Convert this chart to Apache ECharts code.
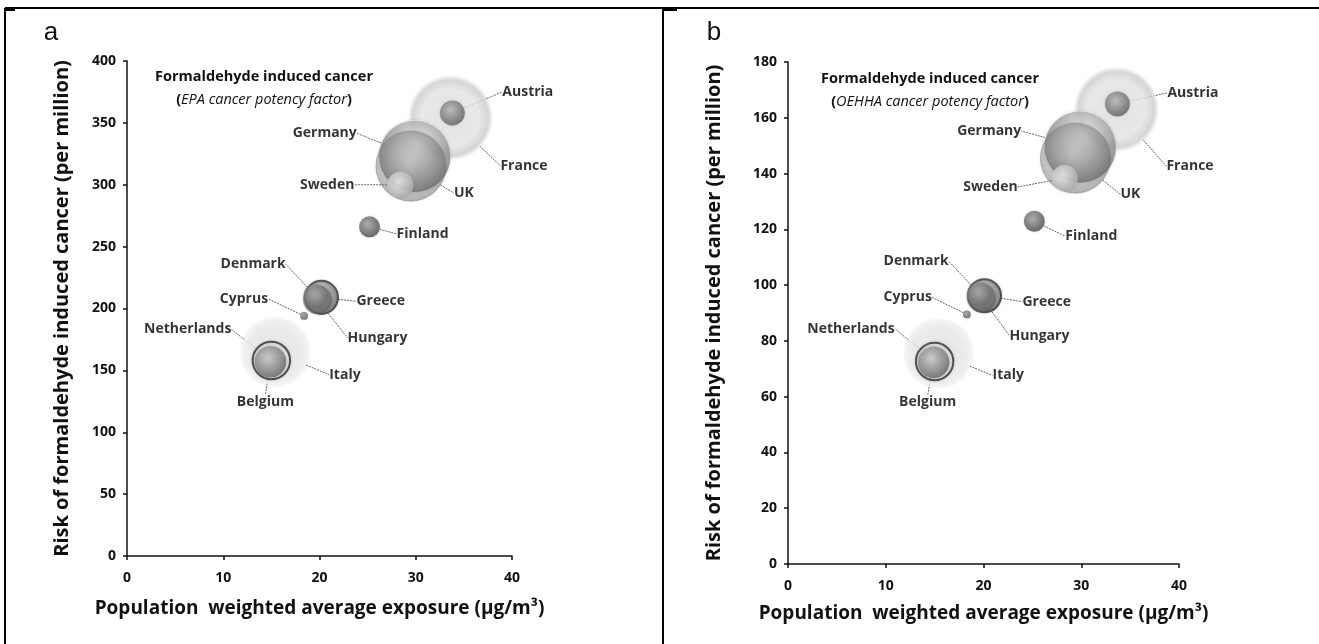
<!DOCTYPE html>
<html>
<head>
<meta charset="utf-8">
<script src="https://cdn.jsdelivr.net/npm/echarts@6/dist/echarts.min.js"></script>
<style>
html,body{margin:0;padding:0;background:#fff;}
#chart{width:1319px;height:644px;}
</style>
</head>
<body>
<div id="chart"></div>
<script>
// ---------- data ----------
const countries = ['France','Italy','Germany','UK','Austria','Sweden','Finland','Greece','Hungary','Denmark','Cyprus','Netherlands','Belgium'];
const exposureA = [33.6, 15.4, 29.9, 29.5, 33.8, 28.4, 25.2, 20.2, 19.8, 19.6, 18.4, 15.0, 14.9];
const riskEPA   = [354, 165, 323, 315, 358, 300, 266, 209, 207, 210, 194, 158, 157];
const exposureB = [33.6, 15.4, 29.9, 29.4, 33.7, 28.3, 25.2, 20.1, 19.8, 19.6, 18.3, 15.0, 14.9];
const riskOEHHA = [163, 75.5, 149.5, 145.5, 165, 138.4, 122.9, 96.2, 95.5, 96.8, 89.5, 72.6, 72.3];
const bubbleSize = [67, 45, 52, 49, 6.2, 7, 4.4, 11, 8.4, 6, 0.6, 14, 10];
const xTicksA = [0, 40, 10];   // min, max, interval
const yTicksA = [0, 400, 50];
const xTicksB = [0, 40, 10];
const yTicksB = [0, 180, 20];

// ---------- styles / layout ----------
const FONT = '"Open Sans"';
function sphere(hi, lo, cx, cy) {
  return {type:'radial', x:cx==null?0.42:cx, y:cy==null?0.38:cy, r:0.7,
    colorStops:[{offset:0,color:hi},{offset:1,color:lo}]};
}
const styles = {
  France: {color:{type:'radial',x:0.5,y:0.5,r:0.5,colorStops:[{offset:0,color:'#e2e2e2'},{offset:0.7,color:'#eaeaea'},{offset:0.92,color:'#d3d3d3'},{offset:1,color:'#ececec'}]}},
  Italy: {color:{type:'radial',x:0.5,y:0.5,r:0.5,colorStops:[{offset:0,color:'#e6e6e6'},{offset:0.8,color:'#eeeeee'},{offset:1,color:'#f6f6f6'}]}},
  Germany: {color:sphere('rgba(240,240,240,0.9)','rgba(85,85,85,0.9)',0.55,0.3), borderColor:'rgba(255,255,255,0.6)', borderWidth:1},
  UK: {color:sphere('rgba(215,215,215,0.5)','rgba(80,80,80,0.6)',0.45,0.45), borderColor:'rgba(110,110,110,0.5)', borderWidth:1},
  Austria: {color:sphere('#b8b8b8','#555555')},
  Sweden: {color:sphere('#f4f4f4','#a8a8a8')},
  Finland: {color:sphere('#a0a0a0','#3e3e3e')},
  Greece: {color:sphere('#d0d0d0','#5a5a5a'), borderColor:'#3a3a3a', borderWidth:2},
  Hungary: {color:sphere('rgba(168,168,168,0.8)','rgba(78,78,78,0.8)')},
  Denmark: {color:sphere('rgba(176,176,176,0.7)','rgba(94,94,94,0.7)')},
  Cyprus: {color:sphere('#999999','#555555')},
  Netherlands: {color:'rgba(220,220,220,0.4)', borderColor:'#2e2e2e', borderWidth:2},
  Belgium: {color:sphere('#cccccc','#5a5a5a')}
};
// label offsets (px from bubble centre): [dx, dy, align]
const labelOffA = {
  France:[50,48,'left'], Italy:[54,23,'left'], Germany:[-58,-23,'right'], UK:[43,27,'left'],
  Austria:[50,-21,'left'], Sweden:[-46,0,'right'], Finland:[27,7,'left'], Greece:[35,4,'left'],
  Hungary:[30,38,'left'], Denmark:[-30,-32,'right'], Cyprus:[-36,-17,'right'],
  Netherlands:[-40,-31,'right'], Belgium:[-5,40,'center']
};
const labelOffB = {
  France:[50,57,'left'], Italy:[54,22,'left'], Germany:[-59,-16,'right'], UK:[45,36,'left'],
  Austria:[50,-11,'left'], Sweden:[-47,9,'right'], Finland:[31,15,'left'], Greece:[38,6,'left'],
  Hungary:[28,38,'left'], Denmark:[-31,-33,'right'], Cyprus:[-35,-17,'right'],
  Netherlands:[-40,-33,'right'], Belgium:[-6,40,'center']
};

function buildData(xs, ys) {
  return countries.map((c, i) => ({
    name: c,
    value: [xs[i], ys[i], bubbleSize[i]],
    itemStyle: Object.assign({shadowBlur:3, shadowColor:'rgba(0,0,0,0.15)'}, styles[c])
  }));
}
function makeSeries(idx, xs, ys, offs) {
  return {
    type:'scatter', xAxisIndex:idx, yAxisIndex:idx,
    data: buildData(xs, ys),
    symbolSize: v => 10 * Math.sqrt(v[2]),
    label: {show:true, formatter:'{b}', fontFamily:FONT, fontWeight:'bold', fontSize:14, color:'#000'},
    labelLine: {show:true, lineStyle:{color:'#666', width:1, type:[2,1]}},
    labelLayout: function (p) {
      const o = offs[countries[p.dataIndex]] || [0,0,'center'];
      return {x: p.rect.x + p.rect.width/2 + o[0], y: p.rect.y + p.rect.height/2 + o[1], align:o[2], verticalAlign:'middle'};
    },
    emphasis: {disabled:true},
    animation:false
  };
}
function xAxis(idx, t, gap) {
  return {gridIndex:idx, type:'value', min:t[0], max:t[1], interval:t[2],
    name:'Population  weighted average exposure (µg/m³)', nameLocation:'middle', nameGap:gap,
    nameTextStyle:{fontFamily:FONT, fontWeight:'bold', fontSize:19, color:'#111'},
    axisLine:{show:true, onZero:false, lineStyle:{color:'#111', width:1.5}},
    axisTick:{show:true, length:4, lineStyle:{color:'#111', width:1.5}},
    axisLabel:{fontFamily:FONT, fontWeight:'bold', fontSize:14, color:'#111', margin:15},
    splitLine:{show:false}};
}
function yAxis(idx, t, gap) {
  return {gridIndex:idx, type:'value', min:t[0], max:t[1], interval:t[2],
    name:'Risk of formaldehyde induced cancer (per million)', nameLocation:'middle', nameGap:gap,
    nameTextStyle:{fontFamily:FONT, fontWeight:'bold', fontSize:20, color:'#111'},
    axisLine:{show:true, onZero:false, lineStyle:{color:'#111', width:1.5}},
    axisTick:{show:true, length:4, lineStyle:{color:'#111', width:1.5}},
    axisLabel:{fontFamily:FONT, fontWeight:'bold', fontSize:14, color:'#111', margin:11},
    splitLine:{show:false}};
}
function annot(x, y, factor) {
  return [
    {type:'text', x:x, y:y, style:{text:'Formaldehyde induced cancer', font:'bold 14.5px '+FONT, fill:'#111', align:'center', verticalAlign:'middle'}},
    {type:'text', x:x, y:y+23, style:{text:'{p|(}{i|'+factor+'}{p|)}', align:'center', verticalAlign:'middle',
      rich:{p:{fontFamily:FONT, fontWeight:'bold', fontSize:14.5, fill:'#111', color:'#111'},
            i:{fontFamily:FONT, fontStyle:'italic', fontWeight:'normal', fontSize:14.5, fill:'#111', color:'#111'}}}}
  ];
}
function line(x1,y1,x2,y2,w) {
  return {type:'line', shape:{x1,y1,x2,y2}, style:{stroke:'#000', lineWidth:w||2}};
}

const chart = echarts.init(document.getElementById('chart'), null, {renderer:'canvas'});
chart.setOption({
  backgroundColor:'#fff',
  animation:false,
  grid:[
    {left:127, top:61, width:385, height:495},
    {left:788, top:62, width:391, height:502}
  ],
  xAxis:[xAxis(0, xTicksA, 43), xAxis(1, xTicksB, 40)],
  yAxis:[yAxis(0, yTicksA, 55), yAxis(1, yTicksB, 64)],
  series:[makeSeries(0, exposureA, riskEPA, labelOffA), makeSeries(1, exposureB, riskOEHHA, labelOffB)],
  graphic:[
    line(5,8,1319,8,2), line(5,8,5,644,2), line(663,8,663,644,2),
    line(5,10,15,10,2), line(663,10,677,10,2),
    {type:'text', x:51, y:33, style:{text:'a', font:'26px "Liberation Sans"', fill:'#111', align:'center', verticalAlign:'middle'}},
    {type:'text', x:714, y:33, style:{text:'b', font:'26px "Liberation Sans"', fill:'#111', align:'center', verticalAlign:'middle'}}
  ].concat(annot(264, 77, 'EPA cancer potency factor'), annot(930, 79, 'OEHHA cancer potency factor'))
});
</script>
</body>
</html>
